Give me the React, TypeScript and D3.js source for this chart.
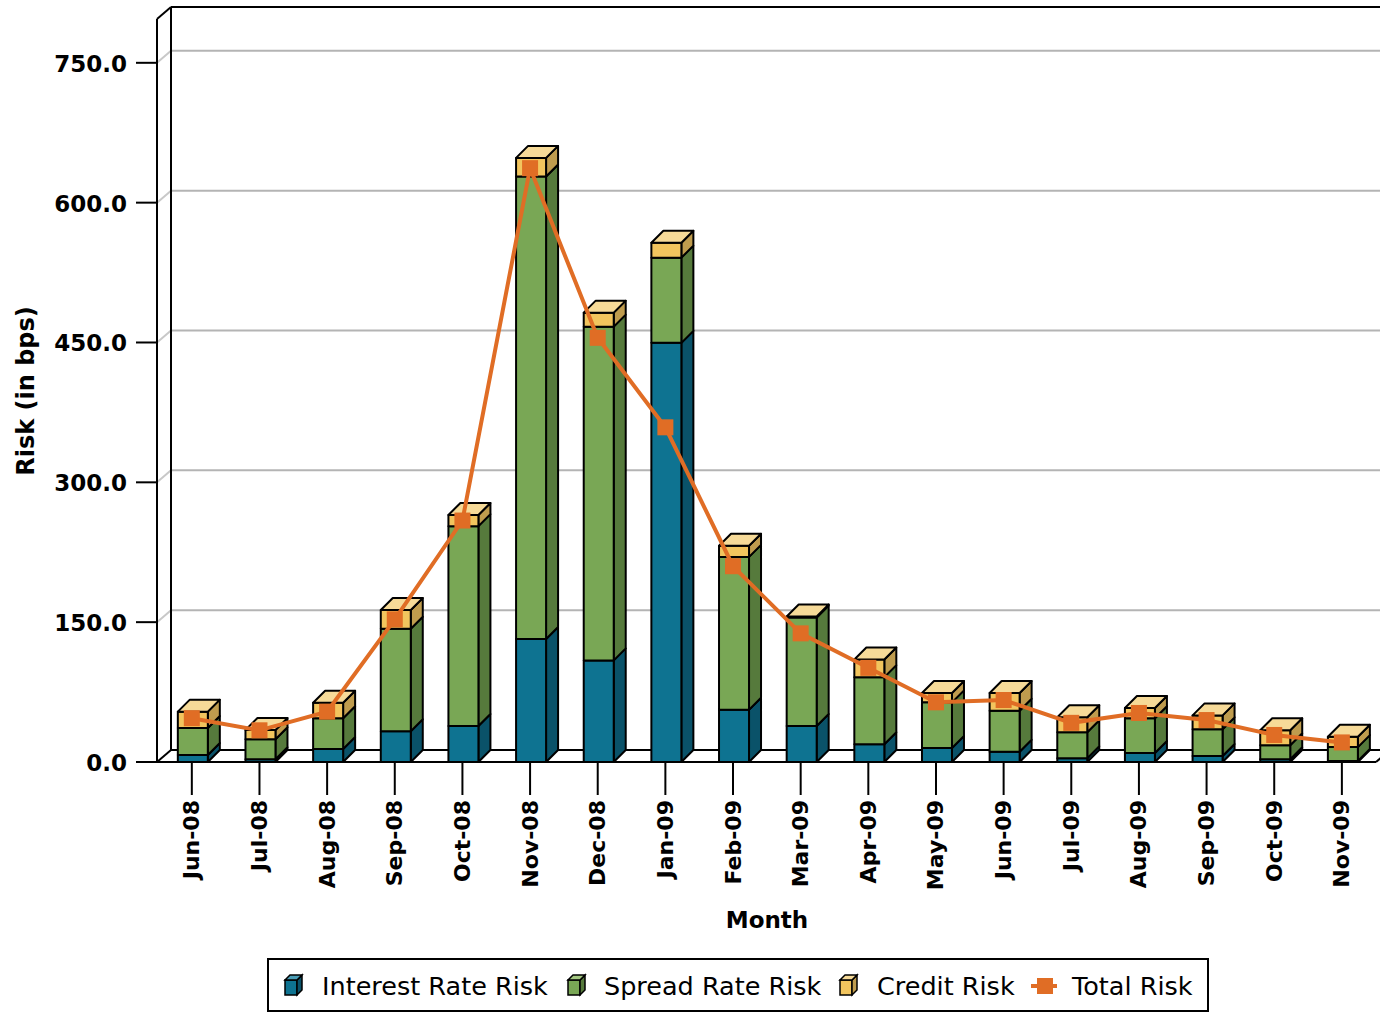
import * as d3 from "d3";

const months = [
  "Jun-08", "Jul-08", "Aug-08", "Sep-08", "Oct-08", "Nov-08", "Dec-08", "Jan-09", "Feb-09",
  "Mar-09", "Apr-09", "May-09", "Jun-09", "Jul-09", "Aug-09", "Sep-09", "Oct-09", "Nov-09",
];
const interestRateRisk = [7.5, 3, 14, 33, 38.6, 132, 109, 449.6, 56, 38.6, 19, 15, 11, 4, 9.7, 6.4, 3, 1];
const spreadRateRisk = [29, 21.4, 33, 110, 214.4, 496, 358, 91.4, 164, 116.4, 72, 49, 44, 28, 37.3, 28.6, 15, 15];
const creditRisk = [17.5, 10, 16.6, 20, 12, 20, 15, 16, 12, 1, 19, 10, 19, 16, 11, 15, 16, 11];
const totalRisk = [47, 34, 54, 153, 259, 637, 455, 359, 210, 138, 101, 64, 66.5, 42, 52.6, 45, 29, 21];
const yTicks = [0, 150, 300, 450, 600, 750];

const seriesStyle = [
  { name: "Interest Rate Risk", front: "#0E7391", side: "#0A5269", top: "#4A9DB6" },
  { name: "Spread Rate Risk", front: "#79A755", side: "#567A3C", top: "#A3C781" },
  { name: "Credit Risk", front: "#F2C55E", side: "#BF9C4E", top: "#F6DA98" },
];
const lineColor = "#E06D25";
const font = "'DejaVu Sans', sans-serif";

const W = 1380;
const H = 1013;
const left = 157;
const bottom = 762;
const top = 19;
const wallDx = 14;
const wallDy = 12;
const barDx = 12;
const barDy = 12;
const barW = 30;

export default function App() {
  const x = d3.scaleBand<string>().domain(months).range([left + 1, left + 1 + 18 * 67.65]);
  const y = d3.scaleLinear().domain([0, 797]).range([bottom, top]);
  const stack = months.map((m, i) => [interestRateRisk[i], spreadRateRisk[i], creditRisk[i]]);
  const cx = (m: string) => (x(m) ?? 0) + x.bandwidth() / 2;

  const line = d3
    .line<number>()
    .x((_, i) => cx(months[i]))
    .y((d) => y(d));

  const legendItems = [
    { kind: 0, icon: 293, text: 322 },
    { kind: 1, icon: 576, text: 604 },
    { kind: 2, icon: 848, text: 877 },
    { kind: 3, icon: 1045, text: 1072 },
  ];

  return (
    <svg width={W} height={H} style={{ position: "absolute", left: 0, top: 0, background: "#fff" }}>
      {/* back wall grid */}
      {yTicks.slice(1).map((t) => (
        <g key={t}>
          <line x1={left + wallDx} x2={W} y1={y(t) - wallDy} y2={y(t) - wallDy} stroke="#b4b4b4" strokeWidth={2} />
          <line x1={left} x2={left + wallDx} y1={y(t)} y2={y(t) - wallDy} stroke="#c8c8c8" strokeWidth={2} />
        </g>
      ))}
      {/* frame */}
      <g stroke="#000" strokeWidth={2} fill="none">
        <line x1={left + wallDx} x2={W} y1={top - wallDy} y2={top - wallDy} />
        <line x1={left + wallDx} x2={left + wallDx} y1={top - wallDy} y2={bottom - wallDy} />
        <line x1={left} x2={left + wallDx} y1={top} y2={top - wallDy} />
        <line x1={left} x2={left} y1={top} y2={bottom} />
        <line x1={left + wallDx} x2={W} y1={bottom - wallDy} y2={bottom - wallDy} />
        <line x1={left} x2={left + wallDx} y1={bottom} y2={bottom - wallDy} />
        <line x1={left - 8} x2={1376} y1={bottom} y2={bottom} />
        <line x1={1376} x2={1376 + wallDx} y1={bottom} y2={bottom - wallDy} />
      </g>
      {/* y axis */}
      {yTicks.map((t) => (
        <g key={t}>
          <line x1={136} x2={left} y1={y(t)} y2={y(t)} stroke="#000" strokeWidth={2} />
          <text x={127} y={y(t) + 9} textAnchor="end" fontFamily={font} fontWeight="bold" fontSize={23}>
            {t.toFixed(1)}
          </text>
        </g>
      ))}
      <text
        transform={`translate(34,391) rotate(-90)`}
        textAnchor="middle"
        fontFamily={font}
        fontWeight="bold"
        fontSize={24}
      >
        Risk (in bps)
      </text>
      {/* bars */}
      {months.map((m, i) => {
        const x0 = cx(m) + 1 - barW / 2;
        let acc = 0;
        const segs = stack[i].map((v, s) => {
          const y0 = y(acc);
          acc += v;
          const y1 = y(acc);
          return { s, y0, y1 };
        });
        const topY = y(acc);
        const topStyle = seriesStyle[2];
        return (
          <g key={m} stroke="#000" strokeWidth={2} strokeLinejoin="round">
            {segs.map(({ s, y0, y1 }) => (
              <g key={s}>
                <polygon
                  points={`${x0 + barW},${y0} ${x0 + barW + barDx},${y0 - barDy} ${x0 + barW + barDx},${y1 - barDy} ${x0 + barW},${y1}`}
                  fill={seriesStyle[s].side}
                />
                <rect x={x0} y={y1} width={barW} height={y0 - y1} fill={seriesStyle[s].front} />
              </g>
            ))}
            <polygon
              points={`${x0},${topY} ${x0 + barDx},${topY - barDy} ${x0 + barW + barDx},${topY - barDy} ${x0 + barW},${topY}`}
              fill={topStyle.top}
            />
          </g>
        );
      })}
      {/* total risk line */}
      <path d={line(totalRisk) ?? ""} fill="none" stroke={lineColor} strokeWidth={4} />
      {totalRisk.map((v, i) => (
        <rect key={i} x={cx(months[i]) - 8} y={y(v) - 8} width={16} height={16} fill={lineColor} />
      ))}
      {/* x axis */}
      {months.map((m) => (
        <g key={m}>
          <line x1={cx(m)} x2={cx(m)} y1={bottom} y2={795} stroke="#000" strokeWidth={2} />
          <text
            transform={`translate(${cx(m)},800) rotate(-90)`}
            textAnchor="end"
            dominantBaseline="central"
            fontFamily={font}
            fontWeight="bold"
            fontSize={22}
          >
            {m}
          </text>
        </g>
      ))}
      <text x={767} y={928} textAnchor="middle" fontFamily={font} fontWeight="bold" fontSize={23}>
        Month
      </text>
      {/* legend */}
      <rect x={268} y={959} width={940} height={52} fill="#fff" stroke="#000" strokeWidth={2} />
      {legendItems.map(({ kind, icon, text }) => (
        <g key={kind}>
          {kind < 3 ? (
            <g stroke="#000" strokeWidth={1.5}>
              <rect x={icon - 8} y={980} width={12} height={15} fill={seriesStyle[kind].front} />
              <polygon points={`${icon + 4},995 ${icon + 9},990 ${icon + 9},975 ${icon + 4},980`} fill={seriesStyle[kind].side} />
              <polygon points={`${icon - 8},980 ${icon - 3},975 ${icon + 9},975 ${icon + 4},980`} fill={seriesStyle[kind].top} />
            </g>
          ) : (
            <g>
              <line x1={icon - 14} x2={icon + 12} y1={986} y2={986} stroke={lineColor} strokeWidth={4} />
              <rect x={icon - 8} y={978} width={16} height={16} fill={lineColor} />
            </g>
          )}
          <text x={text} y={995} fontFamily={font} fontSize={25.5}>
            {seriesStyle[kind] ? seriesStyle[kind].name : "Total Risk"}
          </text>
        </g>
      ))}
    </svg>
  );
}
